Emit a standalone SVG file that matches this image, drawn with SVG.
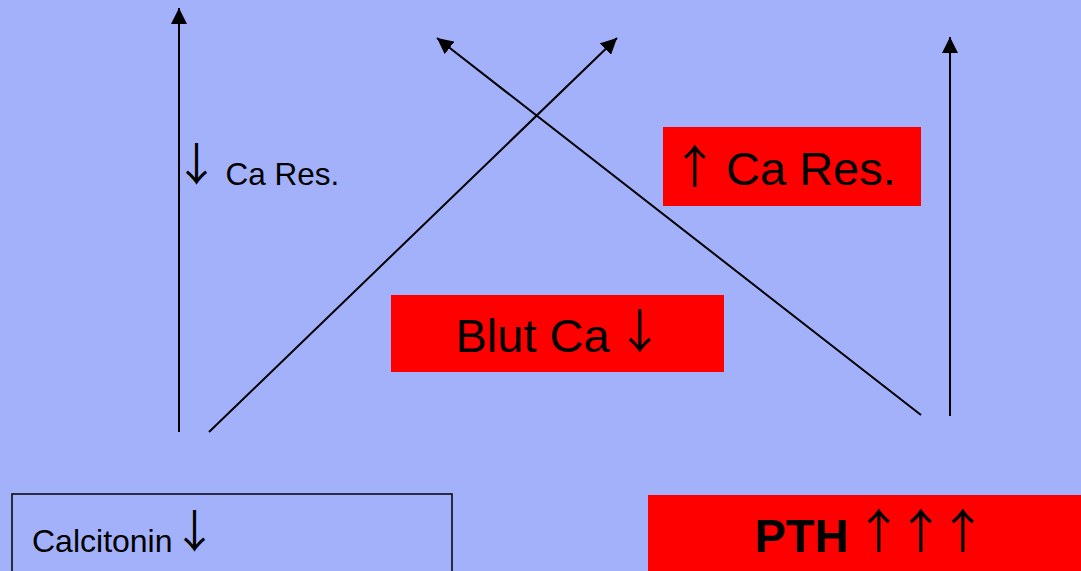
<svg xmlns="http://www.w3.org/2000/svg" width="1081" height="571" viewBox="0 0 1081 571">
<style>
text{font-family:"Liberation Sans",Arial,sans-serif;fill:#000}
.arr{font-family:"Noto Sans CJK JP","Noto Sans CJK SC",sans-serif}
.ln{stroke:#000;stroke-width:2;fill:none;marker-end:url(#ah)}
.red{fill:#FF0000;stroke:none}
</style>
<defs>
<marker id="ah" markerUnits="userSpaceOnUse" markerWidth="16" markerHeight="16" refX="16" refY="8" orient="auto" viewBox="0 0 16 16">
<path d="M0,0 L16,8 L0,16 z" fill="#000"/>
</marker>
</defs>
<rect width="1081" height="571" fill="#A3B0FA"/>
<g id="connectors">
<line class="ln" x1="179" y1="432" x2="179" y2="8"/>
<line class="ln" x1="209" y1="432" x2="617" y2="38"/>
<line class="ln" x1="921" y1="415" x2="437" y2="38"/>
<line class="ln" x1="950" y1="416" x2="950" y2="37"/>
</g>
<g id="label-ca-res-down">
<text class="arr" x="174" y="181" font-size="45">↓</text>
<text x="225.5" y="185" font-size="31.5">Ca Res.</text>
</g>
<g id="node-ca-res-up">
<rect class="red" x="663" y="127" width="258" height="79"/>
<text class="arr" x="671.5" y="182.5" font-size="46">↑</text>
<text x="726" y="185" font-size="47">Ca Res.</text>
</g>
<g id="node-blut-ca">
<rect class="red" x="391" y="295" width="333" height="77"/>
<text x="455.5" y="352" font-size="47">Blut Ca</text>
<text class="arr" x="616" y="348.3" font-size="47">↓</text>
</g>
<g id="node-calcitonin">
<rect x="12" y="494" width="440" height="90" fill="none" stroke="#000" stroke-width="1.5"/>
<text x="32" y="552" font-size="32">Calcitonin</text>
<text class="arr" x="172" y="547.5" font-size="45">↓</text>
</g>
<g id="node-pth">
<rect class="red" x="648" y="495" width="440" height="90"/>
<text x="754.5" y="552" font-size="47" font-weight="bold">PTH</text>
<text class="arr" x="855" y="548.3" font-size="47" letter-spacing="-5">↑↑↑</text>
</g>
</svg>
